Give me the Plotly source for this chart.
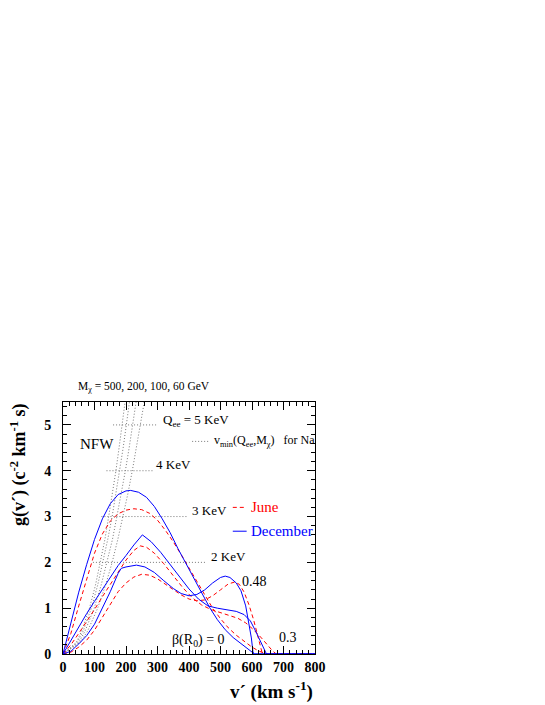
import plotly.graph_objects as go

# --- data (v' in km/s, g in c^-2 km^-1 s) ---
v_a_dec = [0, 25, 50, 75, 100, 125, 150, 175, 200, 215, 240, 265, 290, 315, 340, 365, 390,
           415, 440, 465, 490, 515, 540, 565, 585, 600, 608, 800]
g_a_dec = [0, 0.7, 1.35, 1.95, 2.5, 2.95, 3.28, 3.48, 3.56, 3.57, 3.53, 3.42, 3.22, 2.95, 2.65,
           2.3, 1.98, 1.65, 1.33, 1.02, 0.75, 0.53, 0.36, 0.22, 0.12, 0.04, 0, 0]

v_a_jun = [0, 25, 50, 75, 100, 125, 150, 175, 200, 225, 250, 275, 300, 325, 350, 375, 400,
           425, 450, 475, 500, 525, 550, 575, 600, 620, 640, 645, 800]
g_a_jun = [0, 0.45, 1.05, 1.65, 2.2, 2.62, 2.9, 3.06, 3.14, 3.17, 3.15, 3.07, 2.92, 2.7, 2.45,
           2.17, 1.87, 1.57, 1.28, 1.0, 0.77, 0.57, 0.41, 0.27, 0.15, 0.07, 0.01, 0, 0]

v_b_dec = [0, 25, 50, 75, 100, 125, 150, 175, 200, 225, 252, 280, 310, 340, 370, 400, 430,
           460, 490, 520, 550, 575, 595, 610, 625, 640, 646, 800]
g_b_dec = [0, 0.3, 0.6, 0.88, 1.15, 1.42, 1.68, 1.93, 2.15, 2.38, 2.6, 2.45, 2.22, 1.95, 1.68,
           1.42, 1.2, 1.05, 1.0, 0.97, 0.93, 0.86, 0.72, 0.52, 0.3, 0.08, 0, 0]

v_b_jun = [0, 25, 50, 75, 100, 125, 150, 175, 200, 225, 245, 265, 290, 320, 350, 380, 410,
           440, 470, 500, 530, 555, 580, 605, 630, 650, 665, 677, 800]
g_b_jun = [0, 0.2, 0.45, 0.7, 0.97, 1.25, 1.52, 1.8, 2.05, 2.26, 2.36, 2.33, 2.2, 1.97, 1.7,
           1.45, 1.23, 1.07, 0.97, 0.9, 0.84, 0.78, 0.68, 0.53, 0.35, 0.18, 0.07, 0, 0]

v_c_dec = [0, 25, 50, 75, 100, 125, 150, 175, 185, 200, 233, 260, 290, 320, 350, 375, 400,
           425, 450, 475, 500, 515, 530, 550, 565, 580, 590, 598, 603, 606, 800]
g_c_dec = [0, 0.06, 0.22, 0.4, 0.65, 1.0, 1.36, 1.76, 1.87, 1.9, 1.94, 1.9, 1.78, 1.6, 1.43,
           1.32, 1.27, 1.3, 1.4, 1.55, 1.67, 1.7, 1.67, 1.55, 1.38, 1.05, 0.7, 0.35, 0.05, 0, 0]

v_c_jun = [0, 25, 50, 75, 100, 125, 150, 175, 200, 225, 250, 275, 300, 325, 350, 375, 400,
           425, 450, 475, 500, 525, 545, 560, 575, 590, 605, 615, 625, 632, 636, 800]
g_c_jun = [0, 0.04, 0.15, 0.3, 0.52, 0.8, 1.1, 1.36, 1.55, 1.68, 1.74, 1.72, 1.64, 1.52, 1.4,
           1.29, 1.2, 1.16, 1.18, 1.27, 1.4, 1.53, 1.57, 1.52, 1.35, 1.08, 0.75, 0.48, 0.2, 0.03,
           0, 0]

# v_min(Q_ee, M_chi) for Na, one list per mass (500, 200, 100, 60 GeV)
q_ee = [0, 0.25, 0.5, 1, 1.5, 2, 2.5, 3, 3.5, 4, 4.5, 5, 5.5]
vmin_500 = [0, 42, 59, 84, 103, 119, 133, 145, 157, 168, 178, 188, 197]
vmin_200 = [0, 45, 64, 90, 110, 127, 142, 156, 168, 180, 191, 201, 211]
vmin_100 = [0, 50, 70, 99, 121, 140, 157, 171, 185, 198, 210, 221, 232]
vmin_60 = [0, 55, 78, 110, 135, 156, 174, 191, 206, 220, 233, 246, 258]

# horizontal Q_ee guide lines: level, start v, end v
q_levels = [5, 4, 3, 2]
q_start = [159, 138, 122, 95]
q_end = [300, 284, 392, 456]
q_labels = ["Q<sub>ee</sub> = 5 KeV", "4 KeV", "3 KeV", "2 KeV"]

BLUE = "#0000ff"
RED = "#ff0000"
DOT = "#777777"
FONT = "Liberation Serif"

fig = go.Figure()

for vm in [vmin_500, vmin_200, vmin_100, vmin_60]:
    fig.add_trace(go.Scatter(x=vm, y=q_ee, mode="lines",
                             line=dict(color=DOT, width=1, dash="1px,2px")))

for lvl, x0, x1 in zip(q_levels, q_start, q_end):
    fig.add_trace(go.Scatter(x=[x0, x1], y=[lvl, lvl], mode="lines",
                             line=dict(color=DOT, width=1, dash="1px,2px")))

for vx, gy in [(v_a_jun, g_a_jun), (v_b_jun, g_b_jun), (v_c_jun, g_c_jun)]:
    fig.add_trace(go.Scatter(x=vx, y=gy, mode="lines",
                             line=dict(color=RED, width=1, dash="4px,3px")))

for vx, gy in [(v_a_dec, g_a_dec), (v_b_dec, g_b_dec), (v_c_dec, g_c_dec)]:
    fig.add_trace(go.Scatter(x=vx, y=gy, mode="lines",
                             line=dict(color=BLUE, width=1)))

# legend glyphs
fig.add_shape(type="line", x0=410, x1=466, y0=4.64, y1=4.64,
              line=dict(color=DOT, width=1, dash="1px,2px"))
fig.add_shape(type="line", x0=539, x1=583, y0=3.2, y1=3.2,
              line=dict(color=RED, width=1, dash="4px,3px"))
fig.add_shape(type="line", x0=539, x1=583, y0=2.68, y1=2.68,
              line=dict(color=BLUE, width=1))


def label(x, y, text, size=13, color="black", ref="data"):
    refs = {} if ref == "data" else dict(xref="paper", yref="paper")
    fig.add_annotation(x=x, y=y, text=text, showarrow=False, xanchor="left",
                       yanchor="middle", font=dict(family=FONT, size=size, color=color),
                       **refs)


label(0.05, 1.06, "M<sub>χ</sub> = 500, 200, 100, 60 GeV", 11.5, ref="paper")
label(48, 4.58, "NFW", 15)
label(472, 4.64, "v<sub>min</sub>(Q<sub>ee</sub>,M<sub>χ</sub>)   for Na", 12)
q_label_y = [5.1, 4.14, 3.14, 2.13]
q_label_x = [310, 288, 402, 462]
for lx, ly, t in zip(q_label_x, q_label_y, q_labels):
    label(lx, ly, t, 13)
label(589, 3.2, "June", 15, RED)
label(589, 2.68, "December", 15, BLUE)
label(561, 1.59, "0.48", 14)
label(678, 0.37, "0.3", 14)
label(339, 0.3, "β(R<sub>0</sub>) = 0", 14)

# axis titles (ROOT style, aligned to the axis ends)
fig.add_annotation(x=1, y=-0.143, xref="paper", yref="paper", xanchor="right",
                   yanchor="middle", showarrow=False,
                   text="<b>v´ (km s<sup>-1</sup>)</b>",
                   font=dict(family=FONT, size=19, color="black"))
fig.add_annotation(x=-0.175, y=1, xref="paper", yref="paper", xanchor="center",
                   yanchor="top", showarrow=False, textangle=-90,
                   text="<b>g(v´) (c<sup>-2</sup> km<sup>-1</sup> s)</b>",
                   font=dict(family=FONT, size=18, color="black"))

axis_common = dict(showgrid=False, zeroline=False, showline=True, linecolor="black",
                   linewidth=1, mirror="ticks", ticks="inside", ticklen=8,
                   tickcolor="black", tickwidth=1,
                   tickfont=dict(family=FONT, size=14, color="black", weight="bold"))

# the page adds an 8px body margin, so the figure is shrunk to end at the window edge
fig.update_layout(
    width=537, height=697,
    margin=dict(l=55, r=230, t=394, b=51),
    paper_bgcolor="white", plot_bgcolor="white",
    showlegend=False,
    xaxis=dict(range=[0, 800], dtick=100, tick0=0,
               minor=dict(dtick=20, ticks="inside", ticklen=4, tickcolor="black"),
               **axis_common),
    yaxis=dict(range=[0, 5.5], dtick=1, tick0=0, ticklabelstandoff=8,
               minor=dict(dtick=0.2, ticks="inside", ticklen=4, tickcolor="black"),
               **axis_common),
)

fig.write_html("out.html")
